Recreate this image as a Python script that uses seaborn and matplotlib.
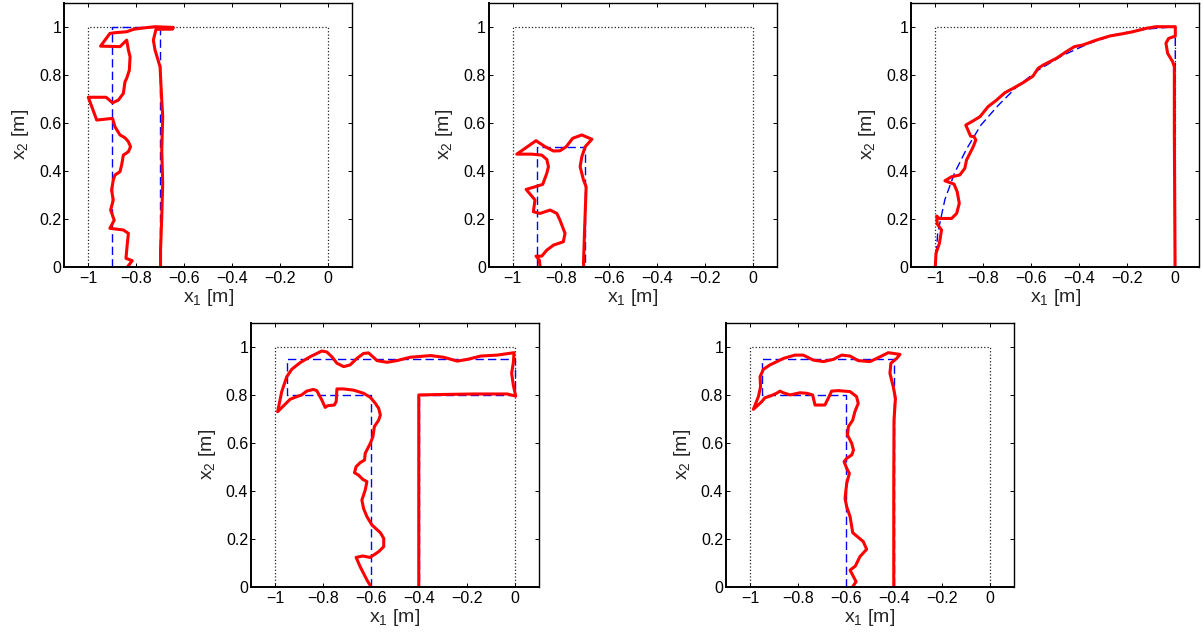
import matplotlib
matplotlib.use('Agg')
import matplotlib.pyplot as plt
import seaborn as sns
import pandas as pd
import numpy as np

# Colors / styles
red_color = '#ff0000'
blue_color = '#0000ff'

# Tick values and labels (shared by all panels)
x_ticks = [-1, -0.8, -0.6, -0.4, -0.2, 0]
x_tick_labels = ['\u22121', '\u22120.8', '\u22120.6', '\u22120.4', '\u22120.2', '0']
y_ticks = [0, 0.2, 0.4, 0.6, 0.8, 1]
y_tick_labels = ['0', '0.2', '0.4', '0.6', '0.8', '1']

# Workspace boundary (dotted box)
box_x = [-1, -1, 0, 0]
box_y = [0, 1, 1, 0]

# Panel 1: narrow inverted U corridor
p1_ref_x = [-0.9, -0.9, -0.7, -0.7]
p1_ref_y = [0.0, 1.0, 1.0, 0.0]
p1_path_x = [-0.836, -0.817, -0.843, -0.838, -0.833, -0.854, -0.910, -0.892, -0.907, -0.896, -0.903,
             -0.896, -0.889, -0.868, -0.861, -0.854, -0.833, -0.824, -0.833, -0.847, -0.868, -0.889,
             -0.899, -0.965, -1.0, -0.926, -0.899, -0.875, -0.854, -0.847, -0.840, -0.829, -0.826,
             -0.833, -0.840, -0.868, -0.949, -0.910, -0.889, -0.840, -0.812, -0.785, -0.722, -0.646,
             -0.649, -0.718, -0.729, -0.722, -0.701, -0.694, -0.690, -0.694, -0.690, -0.694, -0.699, -0.699]
p1_path_y = [0.0, 0.025, 0.035, 0.09, 0.139, 0.153, 0.160, 0.194, 0.236, 0.278, 0.319,
             0.361, 0.382, 0.396, 0.424, 0.465, 0.479, 0.5, 0.521, 0.537, 0.549, 0.583,
             0.618, 0.611, 0.706, 0.706, 0.683, 0.694, 0.722, 0.771, 0.785, 0.819, 0.875,
             0.903, 0.944, 0.917, 0.919, 0.972, 0.975, 0.979, 0.989, 0.993, 1.0, 0.997,
             0.990, 0.989, 0.944, 0.903, 0.833, 0.694, 0.625, 0.486, 0.347, 0.208, 0.069, 0.0]

# Panel 2: short corridor
p2_ref_x = [-0.9, -0.9, -0.7, -0.7]
p2_ref_y = [0.0, 0.5, 0.5, 0.0]
p2_path_x = [-0.886, -0.889, -0.903, -0.879, -0.858, -0.830, -0.789, -0.782, -0.803, -0.816, -0.844,
             -0.886, -0.914, -0.907, -0.944, -0.907, -0.875, -0.858, -0.851, -0.858, -0.879, -0.921,
             -0.983, -0.903, -0.865, -0.830, -0.803, -0.777, -0.750, -0.712, -0.670, -0.698, -0.712,
             -0.719, -0.705, -0.694, -0.697, -0.701, -0.705, -0.704]
p2_path_y = [0.0, 0.028, 0.044, 0.044, 0.069, 0.090, 0.104, 0.139, 0.194, 0.222, 0.236,
             0.222, 0.229, 0.278, 0.322, 0.333, 0.343, 0.389, 0.417, 0.447, 0.465, 0.469,
             0.469, 0.525, 0.5, 0.482, 0.483, 0.5, 0.535, 0.549, 0.531, 0.5, 0.458,
             0.417, 0.361, 0.333, 0.25, 0.139, 0.014, 0.0]

# Panel 3: quarter-arc corridor
p3_ref_x = [-1.0, -0.99, -0.96, -0.92, -0.87, -0.81, -0.74, -0.66, -0.57, -0.47, -0.36, -0.24, -0.12, 0.0, 0.0]
p3_ref_y = [0.0, 0.14, 0.28, 0.39, 0.49, 0.59, 0.67, 0.75, 0.82, 0.88, 0.93, 0.97, 0.99, 1.0, 0.0]
p3_path_x = [-1.0, -0.997, -0.983, -0.974, -0.992, -0.994, -0.983, -0.932, -0.911, -0.900, -0.909,
             -0.922, -0.960, -0.932, -0.898, -0.877, -0.870, -0.856, -0.842, -0.831, -0.839, -0.853,
             -0.873, -0.842, -0.814, -0.780, -0.745, -0.710, -0.676, -0.634, -0.593, -0.572, -0.551,
             -0.496, -0.454, -0.420, -0.385, -0.330, -0.274, -0.212, -0.177, -0.122, -0.080, 0.0,
             0.0, -0.028, -0.039, -0.032, -0.011, -0.004, -0.004, -0.001]
p3_path_y = [0.0, 0.056, 0.097, 0.153, 0.178, 0.211, 0.201, 0.201, 0.222, 0.264, 0.313,
             0.344, 0.358, 0.375, 0.382, 0.410, 0.444, 0.472, 0.5, 0.528, 0.542, 0.544,
             0.590, 0.608, 0.625, 0.667, 0.694, 0.725, 0.743, 0.767, 0.794, 0.826, 0.840,
             0.868, 0.896, 0.917, 0.924, 0.944, 0.961, 0.972, 0.979, 0.993, 1.0, 1.0,
             0.961, 0.951, 0.931, 0.889, 0.854, 0.833, 0.556, 0.0]

# Panel 4: T-shaped corridor
p4_ref_x = [-0.6, -0.6, -0.95, -0.95, 0.0, 0.0, -0.4, -0.4]
p4_ref_y = [0.0, 0.8, 0.8, 0.95, 0.95, 0.8, 0.8, 0.0]
p4_path_x = [-0.600, -0.617, -0.645, -0.662, -0.634, -0.604, -0.568, -0.547, -0.547, -0.561, -0.596,
             -0.617, -0.631, -0.638, -0.624, -0.617, -0.634, -0.652, -0.669, -0.662, -0.645, -0.627,
             -0.624, -0.603, -0.592, -0.586, -0.568, -0.561, -0.568, -0.582, -0.603, -0.631, -0.673,
             -0.714, -0.742, -0.745, -0.753, -0.781, -0.791, -0.805, -0.826, -0.840, -0.868, -0.889,
             -0.909, -0.937, -0.989, -0.972, -0.951, -0.930, -0.896, -0.854, -0.805, -0.784, -0.763,
             -0.742, -0.714, -0.687, -0.659, -0.631, -0.610, -0.592, -0.575, -0.533, -0.492, -0.437,
             -0.352, -0.297, -0.241, -0.199, -0.143, -0.074, -0.004, -0.007, -0.014, -0.007, 0.003,
             -0.032, -0.171, -0.297, -0.401, -0.401, -0.401]
p4_path_y = [0.0, 0.028, 0.083, 0.122, 0.128, 0.122, 0.146, 0.167, 0.201, 0.225, 0.257,
             0.292, 0.326, 0.361, 0.403, 0.438, 0.447, 0.465, 0.475, 0.5, 0.517, 0.528,
             0.556, 0.597, 0.625, 0.667, 0.694, 0.715, 0.743, 0.764, 0.789, 0.806, 0.819,
             0.824, 0.824, 0.771, 0.757, 0.754, 0.747, 0.778, 0.817, 0.822, 0.815, 0.799,
             0.792, 0.781, 0.729, 0.8125, 0.875, 0.906, 0.933, 0.958, 0.982, 0.978, 0.958,
             0.931, 0.917, 0.924, 0.951, 0.972, 0.974, 0.958, 0.942, 0.935, 0.942, 0.956,
             0.963, 0.956, 0.940, 0.947, 0.961, 0.965, 0.975, 0.933, 0.889, 0.840, 0.794,
             0.803, 0.803, 0.801, 0.799, 0.556, 0.0]

# Panel 5: L-shaped corridor
p5_ref_x = [-0.6, -0.6, -0.95, -0.95, -0.4, -0.4]
p5_ref_y = [0.0, 0.8, 0.8, 0.95, 0.95, 0.0]
p5_path_x = [-0.572, -0.558, -0.569, -0.583, -0.561, -0.542, -0.514, -0.528, -0.572, -0.583, -0.597,
             -0.604, -0.597, -0.586, -0.597, -0.608, -0.597, -0.576, -0.569, -0.576, -0.594, -0.590,
             -0.572, -0.563, -0.549, -0.556, -0.583, -0.632, -0.660, -0.674, -0.688, -0.729, -0.739,
             -0.764, -0.792, -0.833, -0.861, -0.875, -0.889, -0.917, -0.938, -0.951, -0.986, -0.965,
             -0.956, -0.958, -0.944, -0.917, -0.861, -0.813, -0.778, -0.736, -0.694, -0.653, -0.618,
             -0.583, -0.549, -0.500, -0.458, -0.424, -0.375, -0.389, -0.413, -0.417, -0.403, -0.394,
             -0.400, -0.401, -0.401]
p5_path_y = [0.0, 0.021, 0.042, 0.069, 0.086, 0.125, 0.156, 0.188, 0.225, 0.292, 0.333,
             0.368, 0.431, 0.472, 0.493, 0.521, 0.535, 0.549, 0.569, 0.597, 0.632, 0.667,
             0.694, 0.729, 0.764, 0.792, 0.813, 0.817, 0.815, 0.785, 0.757, 0.757, 0.799,
             0.806, 0.808, 0.799, 0.808, 0.815, 0.806, 0.794, 0.787, 0.771, 0.739, 0.792,
             0.833, 0.875, 0.906, 0.924, 0.951, 0.965, 0.965, 0.944, 0.938, 0.947, 0.965,
             0.961, 0.942, 0.938, 0.958, 0.975, 0.968, 0.951, 0.931, 0.889, 0.833, 0.785,
             0.694, 0.417, 0.0]

panels = [
    (p1_ref_x, p1_ref_y, p1_path_x, p1_path_y),
    (p2_ref_x, p2_ref_y, p2_path_x, p2_path_y),
    (p3_ref_x, p3_ref_y, p3_path_x, p3_path_y),
    (p4_ref_x, p4_ref_y, p4_path_x, p4_path_y),
    (p5_ref_x, p5_ref_y, p5_path_x, p5_path_y),
]

sns.set_theme(style='ticks')
plt.rcParams['font.family'] = ['Liberation Sans', 'DejaVu Sans']
plt.rcParams['mathtext.fontset'] = 'custom'
plt.rcParams['mathtext.rm'] = 'Liberation Sans'
plt.rcParams['mathtext.it'] = 'Liberation Sans'

W, H = 1203, 639
fig = plt.figure(figsize=(W / 100, H / 100), dpi=100)

# Axes placement in pixels: (left edge, pixel row of y=0)
ax_px = [(64.3, 266.7), (488.7, 266.7), (911.3, 266.7), (251.0, 586.7), (726.0, 586.7)]
ax_w, ax_h = 288, 264

for (left, y0), (rx, ry, px, py) in zip(ax_px, panels):
    ax = fig.add_axes([left / W, (H - y0) / H, ax_w / W, ax_h / H])
    ax.plot(box_x, box_y, color='#222222', linestyle=':', linewidth=0.9)
    ref_df = pd.DataFrame({'x': rx, 'y': ry})
    path_df = pd.DataFrame({'x': px, 'y': py})
    sns.lineplot(data=ref_df, x='x', y='y', sort=False, estimator=None, ax=ax,
                 color=blue_color, linewidth=1.0, linestyle=(0, (6, 3)))
    sns.lineplot(data=path_df, x='x', y='y', sort=False, estimator=None, ax=ax,
                 color=red_color, linewidth=2.2)
    ax.set_xlim(-1.1, 0.1)
    ax.set_ylim(0, 1.1)
    ax.set_xticks(x_ticks, x_tick_labels)
    ax.set_yticks(y_ticks, y_tick_labels)
    ax.tick_params(direction='in', length=3, width=0.7, top=True, right=True,
                   labelsize=11.5, colors='black')
    ax.tick_params(axis='x', pad=3)
    ax.tick_params(axis='y', pad=2)
    for name, sp in ax.spines.items():
        sp.set_linewidth(1.4 if name in ('left', 'bottom') else 1.0)
        sp.set_color('black')
        sp.set_visible(True)
    ax.set_xlabel(r'x$_\mathregular{1}$ [m]', fontsize=14, labelpad=0.5)
    ax.set_ylabel(r'x$_\mathregular{2}$ [m]', fontsize=14, labelpad=6)

fig.savefig('out.png', dpi=100)
